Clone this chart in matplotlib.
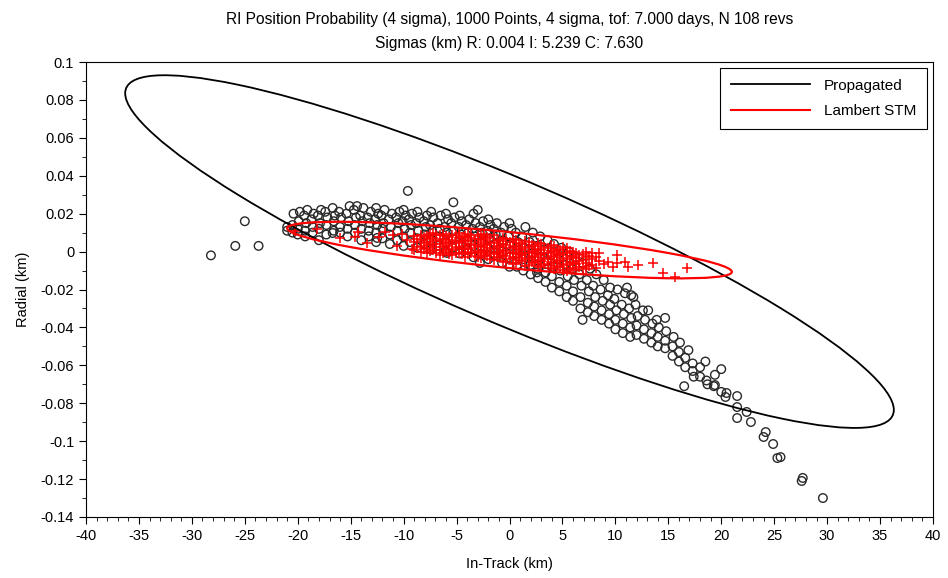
import numpy as np
import matplotlib
matplotlib.use("Agg")
import matplotlib.pyplot as plt
from matplotlib.patches import Circle
from matplotlib.transforms import Affine2D
from matplotlib.lines import Line2D
from matplotlib.ticker import FuncFormatter, MultipleLocator

plt.rcParams.update({"font.family": ["Liberation Sans", "DejaVu Sans"],
                     "axes.unicode_minus": False, "font.size": 10})

TITLE = ("RI Position Probability (4 sigma), 1000 Points, 4 sigma, tof: 7.000 days, N 108 revs\n"
         "Sigmas (km) R: 0.004 I: 5.239 C: 7.630")

# propagated samples (in-track km, radial km)
prop_pts = [
    (-28.2, -0.002), (-25.9, 0.003), (-25.0, 0.016), (-23.7, 0.003), (-9.6, 0.032),
    (-21.0, 0.011), (-21.0, 0.013), (-20.5, 0.010), (-20.5, 0.014), (-20.4, 0.020),
    (-20.0, 0.009), (-20.0, 0.012), (-19.9, 0.016), (-19.8, 0.021),
    (-19.3, 0.008), (-19.3, 0.011), (-19.2, 0.015), (-19.4, 0.019), (-19.1, 0.022),
    (-18.6, 0.010), (-18.6, 0.013), (-18.7, 0.017), (-18.5, 0.020),
    (-18.0, 0.006), (-18.0, 0.012), (-17.9, 0.015), (-18.1, 0.019), (-17.8, 0.022),
    (-17.3, 0.009), (-17.3, 0.014), (-17.2, 0.018), (-17.4, 0.021),
    (-16.7, 0.0098), (-16.6, 0.011), (-16.6, 0.016), (-16.5, 0.019), (-16.7, 0.023),
    (-16.0, 0.010), (-16.0, 0.013), (-15.9, 0.018), (-16.1, 0.021),
    (-15.3, 0.008), (-15.3, 0.012), (-15.2, 0.016), (-15.4, 0.020), (-15.1, 0.024),
    (-14.6, 0.010), (-14.6, 0.014), (-14.5, 0.018), (-14.7, 0.022), (-14.4, 0.024),
    (-14.0, 0.006), (-14.0, 0.012), (-13.9, 0.016), (-14.1, 0.019), (-13.8, 0.023),
    (-13.3, 0.008), (-13.3, 0.011), (-13.2, 0.015), (-13.4, 0.018), (-13.1, 0.021),
    (-12.6, 0.005), (-12.5, 0.0072), (-12.6, 0.010), (-12.5, 0.014), (-12.7, 0.017),
    (-12.4, 0.020), (-12.6, 0.023),
    (-12.0, 0.007), (-12.0, 0.012), (-11.9, 0.015), (-12.1, 0.019), (-11.8, 0.022),
    (-11.3, 0.004), (-11.3, 0.009), (-11.2, 0.013), (-11.4, 0.017), (-11.1, 0.020),
    (-10.6, 0.006), (-10.6, 0.011), (-10.5, 0.015), (-10.7, 0.018), (-10.4, 0.021),
    (-10.0, 0.003), (-10.0, 0.008), (-9.9, 0.012), (-10.1, 0.016), (-9.8, 0.019),
    (-10.0, 0.022),
    (-9.4, 0.005), (-9.4, 0.010), (-9.3, 0.014), (-9.5, 0.017), (-9.2, 0.020),
    (-8.7, 0.002), (-8.7, 0.007), (-8.6, 0.011), (-8.8, 0.015), (-8.5, 0.018),
    (-8.7, 0.021),
    (-8.0, 0.004), (-8.0, 0.009), (-7.9, 0.013), (-8.1, 0.016), (-7.8, 0.019),
    (-7.4, 0.001), (-7.4, 0.006), (-7.3, 0.011), (-7.5, 0.014), (-7.2, 0.018),
    (-7.4, 0.021),
    (-6.7, 0.003), (-6.7, 0.008), (-6.6, 0.012), (-6.8, 0.015), (-6.5, 0.019),
    (-6.0, 0.000), (-5.9, -0.0007), (-6.0, 0.005), (-5.9, 0.010), (-6.1, 0.013),
    (-5.8, 0.017), (-6.0, 0.020),
    (-5.4, 0.002), (-5.4, 0.007), (-5.3, 0.011), (-5.5, 0.015), (-5.2, 0.018),
    (-5.3, 0.026),
    (-4.7, -0.001), (-4.7, 0.004), (-4.6, 0.009), (-4.8, 0.013), (-4.5, 0.016),
    (-4.7, 0.019),
    (-4.0, 0.001), (-4.0, 0.006), (-3.9, 0.010), (-4.1, 0.014), (-3.8, 0.017),
    (-3.4, -0.003), (-3.4, 0.003), (-3.3, 0.008), (-3.5, 0.012), (-3.2, 0.015),
    (-3.4, 0.020), (-3.0, 0.022),
    (-2.8, -0.006), (-2.7, -0.001), (-2.7, 0.005), (-2.6, 0.010), (-2.8, 0.013),
    (-2.5, 0.016),
    (-2.0, -0.004), (-2.0, 0.002), (-1.9, 0.007), (-2.1, 0.011), (-1.8, 0.014),
    (-2.0, 0.017),
    (-1.4, -0.002), (-1.4, 0.004), (-1.3, 0.009), (-1.5, 0.012), (-1.2, 0.015),
    (-0.7, -0.006), (-0.7, 0.000), (-0.6, 0.006), (-0.8, 0.010), (-0.5, 0.013),
    (0.0, -0.008), (0.0, -0.003), (0.1, 0.003), (-0.1, 0.008), (0.2, 0.012),
    (0.0, 0.015),
    (0.7, -0.008), (0.7, -0.001), (0.8, 0.005), (0.6, 0.010),
    (1.3, -0.010), (1.3, -0.004), (1.4, 0.002), (1.2, 0.008), (1.5, 0.013),
    (2.0, -0.012), (2.0, -0.007), (2.1, -0.001), (1.9, 0.005), (2.2, 0.010),
    (2.6, -0.011), (2.7, -0.014), (2.7, -0.009), (2.8, -0.003), (2.6, 0.003),
    (2.9, 0.008),
    (3.4, -0.016), (3.4, -0.011), (3.5, -0.005), (3.3, 0.001), (3.6, 0.006),
    (4.0, -0.019), (4.0, -0.013), (4.1, -0.008), (3.9, -0.002), (4.2, 0.004),
    (4.7, -0.021), (4.7, -0.016), (4.8, -0.010), (4.6, -0.004), (4.9, 0.002),
    (5.4, -0.024), (5.4, -0.018), (5.5, -0.013), (5.3, -0.007), (5.6, 0.000),
    (6.0, -0.026), (6.0, -0.021), (6.1, -0.015), (5.9, -0.009), (6.2, -0.003),
    (6.7, -0.030), (6.9, -0.036), (6.7, -0.024), (6.8, -0.018), (6.6, -0.012),
    (6.9, -0.006),
    (7.4, -0.032), (7.4, -0.027), (7.5, -0.021), (7.3, -0.015), (7.6, -0.009),
    (8.0, -0.034), (8.0, -0.029), (8.1, -0.024), (7.9, -0.018), (8.2, -0.012),
    (8.7, -0.036), (8.7, -0.031), (8.8, -0.026), (8.6, -0.020), (8.9, -0.015),
    (9.4, -0.038), (9.4, -0.033), (9.5, -0.028), (9.3, -0.023), (9.5, -0.019),
    (10.0, -0.041), (10.0, -0.036), (10.1, -0.031), (9.9, -0.025), (10.2, -0.020),
    (10.7, -0.043), (10.7, -0.038), (10.8, -0.033), (10.6, -0.028), (10.9, -0.022),
    (11.4, -0.045), (11.4, -0.040), (11.5, -0.035), (11.3, -0.030), (11.1, -0.019),
    (11.7, -0.024), (11.5, -0.023),
    (12.0, -0.044), (12.0, -0.039), (12.1, -0.034), (11.9, -0.028),
    (12.7, -0.046), (12.7, -0.041), (12.8, -0.036), (12.6, -0.031),
    (13.4, -0.048), (13.4, -0.043), (13.5, -0.038), (13.1, -0.031),
    (14.0, -0.050), (14.0, -0.045), (14.1, -0.040), (13.9, -0.036),
    (14.7, -0.051), (14.7, -0.047), (14.8, -0.042), (14.7, -0.035),
    (15.4, -0.055), (15.4, -0.050), (15.5, -0.045),
    (16.0, -0.058), (16.0, -0.053), (16.1, -0.048),
    (16.5, -0.071), (16.6, -0.061), (16.6, -0.056), (16.9, -0.052),
    (17.3, -0.063), (17.3, -0.059), (17.4, -0.066),
    (18.0, -0.066), (18.0, -0.061), (18.5, -0.058),
    (18.7, -0.070), (18.6, -0.068), (19.3, -0.071), (19.4, -0.065),
    (20.0, -0.062), (20.0, -0.074),
    (19.4, -0.0704), (20.4, -0.0767), (20.5, -0.0746), (21.5, -0.0762),
    (21.5, -0.0820), (21.5, -0.0878), (22.4, -0.0846), (22.8, -0.0899),
    (24.2, -0.0952), (24.0, -0.0978), (24.9, -0.1015), (25.3, -0.1089),
    (25.6, -0.1084), (27.7, -0.1194), (27.6, -0.1210), (29.6, -0.1300),
]

# Lambert STM samples (in-track km, radial km)
stm_pts = [
    (-20.3, 0.011), (-18.2, 0.012), (-16.0, 0.0072), (-14.6, 0.0077), (-13.5, 0.0045),
    (-14.3, 0.0103), (-11.8, 0.0103), (-10.6, 0.003), (-9.2, 0.0014), (-9.7, 0.0061),
    (-12.3, 0.0075), (-11.0, 0.0085), (-10.2, 0.0095),
    (-9.0, 0.001), (-9.0, 0.005), (-9.0, 0.008),
    (-8.7, 0.0025), (-8.7, 0.0065),
    (-8.4, 0.000), (-8.4, 0.003), (-8.4, 0.006), (-8.4, 0.009),
    (-8.1, 0.0015), (-8.1, 0.0045), (-8.1, 0.0075),
    (-7.8, -0.001), (-7.8, 0.002), (-7.8, 0.005), (-7.8, 0.008),
    (-7.5, 0.0005), (-7.5, 0.0035), (-7.5, 0.0065), (-7.5, 0.0095),
    (-7.2, 0.001), (-7.2, 0.004), (-7.2, 0.007), (-7.2, 0.010),
    (-6.9, -0.0005), (-6.9, 0.0025), (-6.9, 0.0055), (-6.9, 0.0085),
    (-6.6, -0.002), (-6.6, 0.001), (-6.6, 0.004), (-6.6, 0.006), (-6.6, 0.009),
    (-6.3, -0.0005), (-6.3, 0.0025), (-6.3, 0.0065), (-6.3, 0.0095),
    (-6.0, 0.000), (-6.0, 0.003), (-6.0, 0.005), (-6.0, 0.008),
    (-5.7, -0.0015), (-5.7, 0.0015), (-5.7, 0.0045), (-5.7, 0.0075),
    (-5.4, -0.002), (-5.4, 0.001), (-5.4, 0.004), (-5.4, 0.006), (-5.4, 0.009),
    (-5.1, -0.0005), (-5.1, 0.0025), (-5.1, 0.0055), (-5.1, 0.0085),
    (-4.8, -0.001), (-4.8, 0.002), (-4.8, 0.005), (-4.8, 0.007), (-4.8, 0.010),
    (-4.5, -0.0015), (-4.5, 0.0015), (-4.5, 0.0045), (-4.5, 0.0075),
    (-4.2, -0.003), (-4.2, 0.000), (-4.2, 0.003), (-4.2, 0.006), (-4.2, 0.008),
    (-3.9, -0.0015), (-3.9, 0.0015), (-3.9, 0.0055), (-3.9, 0.0095),
    (-3.6, -0.001), (-3.6, 0.002), (-3.6, 0.004), (-3.6, 0.007), (-3.6, 0.009),
    (-3.3, -0.0025), (-3.3, 0.0005), (-3.3, 0.0035), (-3.3, 0.0065),
    (-3.0, -0.003), (-3.0, 0.000), (-3.0, 0.003), (-3.0, 0.005), (-3.0, 0.008),
    (-2.7, -0.0035), (-2.7, -0.0005), (-2.7, 0.0025), (-2.7, 0.0065), (-2.7, 0.0095),
    (-2.4, -0.002), (-2.4, 0.001), (-2.4, 0.004), (-2.4, 0.006), (-2.4, 0.009),
    (-2.1, -0.0025), (-2.1, 0.0005), (-2.1, 0.0035), (-2.1, 0.0075),
    (-1.8, -0.004), (-1.8, -0.001), (-1.8, 0.002), (-1.8, 0.005), (-1.8, 0.007),
    (-1.5, -0.0045), (-1.5, -0.0015), (-1.5, 0.0015), (-1.5, 0.0045), (-1.5, 0.0085),
    (-1.2, -0.003), (-1.2, 0.000), (-1.2, 0.003), (-1.2, 0.006),
    (-0.9, -0.0035), (-0.9, -0.0005), (-0.9, 0.0025), (-0.9, 0.0055),
    (-0.6, -0.005), (-0.6, -0.002), (-0.6, 0.001), (-0.6, 0.004), (-0.6, 0.007),
    (-0.3, -0.0055), (-0.3, -0.0025), (-0.3, 0.0005), (-0.3, 0.0035), (-0.3, 0.0065),
    (0.0, -0.004), (0.0, -0.001), (0.0, 0.002), (0.0, 0.005),
    (0.3, -0.0065), (0.3, -0.0035), (0.3, -0.0005), (0.3, 0.0025), (0.3, 0.0065),
    (0.6, -0.006), (0.6, -0.003), (0.6, 0.000), (0.6, 0.003), (0.6, 0.006),
    (0.9, -0.0045), (0.9, -0.0015), (0.9, 0.0015), (0.9, 0.0045),
    (1.2, -0.005), (1.2, -0.002), (1.2, 0.001), (1.2, 0.004),
    (1.5, -0.0075), (1.5, -0.0035), (1.5, -0.0005), (1.5, 0.0025), (1.5, 0.0055),
    (1.8, -0.007), (1.8, -0.004), (1.8, -0.001), (1.8, 0.002), (1.8, 0.005),
    (2.1, -0.0055), (2.1, -0.0025), (2.1, 0.0005), (2.1, 0.0035),
    (2.4, -0.006), (2.4, -0.003), (2.4, 0.000), (2.4, 0.003),
    (2.7, -0.0075), (2.7, -0.0045), (2.7, -0.0015), (2.7, 0.0015), (2.7, 0.0045),
    (3.0, -0.008), (3.0, -0.005), (3.0, -0.002), (3.0, 0.001), (3.0, 0.004),
    (3.3, -0.0065), (3.3, -0.0035), (3.3, -0.0005), (3.3, 0.0025),
    (3.6, -0.007), (3.6, -0.004), (3.6, -0.001), (3.6, 0.002),
    (3.9, -0.0085), (3.9, -0.0055), (3.9, -0.0025), (3.9, 0.0005), (3.9, 0.0035),
    (4.2, -0.009), (4.2, -0.006), (4.2, -0.003), (4.2, 0.000), (4.2, 0.003),
    (4.5, -0.0075), (4.5, -0.0045), (4.5, -0.0015), (4.5, 0.0015),
    (4.8, -0.008), (4.8, -0.005), (4.8, -0.002), (4.8, 0.001),
    (5.1, -0.0095), (5.1, -0.0065), (5.1, -0.0035), (5.1, -0.0005), (5.1, 0.0025),
    (5.4, -0.010), (5.4, -0.007), (5.4, -0.004), (5.4, -0.001), (5.4, 0.002),
    (5.7, -0.0085), (5.7, -0.0055), (5.7, -0.0025), (5.7, 0.0005),
    (6.0, -0.009), (6.0, -0.006), (6.0, -0.003), (6.0, 0.000),
    (6.3, -0.0095), (6.3, -0.0065), (6.3, -0.0035), (6.3, -0.0005),
    (6.6, -0.008), (6.6, -0.005), (6.6, -0.002),
    (6.9, -0.0085), (6.9, -0.0045), (6.9, -0.0015),
    (7.2, -0.009), (7.2, -0.006), (7.2, -0.003), (7.2, 0.000),
    (7.5, -0.0075), (7.5, -0.0025),
    (7.8, -0.007), (7.8, -0.004), (7.8, -0.001),
    (8.2, -0.0085), (8.2, -0.003),
    (8.5, -0.0007), (8.5, -0.005), (8.9, -0.0065), (9.3, -0.0055), (9.8, -0.008),
    (10.2, -0.0018), (10.2, -0.006), (10.9, -0.0055), (11.2, -0.0081), (12.1, -0.0071),
    (13.6, -0.006), (14.5, -0.0113), (15.6, -0.0134), (16.8, -0.0087),
]

# 4-sigma ellipses: centre, in-track semi-extent, radial coupling terms
prop_center, prop_a, prop_b = (0.0, 0.0), 36.3, (-0.0835, 0.041)
stm_center, stm_a, stm_b = (0.0, 0.0008), 21.0, (-0.0115, 0.0095)

px, py = np.array(prop_pts).T
sx, sy = np.array(stm_pts).T

fig = plt.figure(figsize=(9.48, 5.78), dpi=100)
ax = fig.add_axes([86 / 948, 1 - 517 / 578, 847 / 948, 455 / 578])

ax.scatter(px, py, s=38, facecolors="none", edgecolors="#2a2a2a", linewidths=1.0, zorder=2)
ax.scatter(sx, sy, s=60, marker="+", color="red", linewidths=1.1, zorder=3)


def ellipse(center, a, b, color, lw):
    m = np.array([[a, 0, center[0]], [b[0], b[1], center[1]], [0, 0, 1]])
    c = Circle((0, 0), 1, fill=False, edgecolor=color, lw=lw,
               transform=Affine2D(m) + ax.transData, zorder=4)
    ax.add_patch(c)


ellipse(prop_center, prop_a, prop_b, "black", 1.3)
ellipse(stm_center, stm_a, stm_b, "red", 1.6)

ax.set_xlim(-40, 40)
ax.set_ylim(-0.14, 0.1)
ax.xaxis.set_major_locator(MultipleLocator(5))
ax.xaxis.set_minor_locator(MultipleLocator(1))
ax.yaxis.set_major_locator(MultipleLocator(0.02))
ax.yaxis.set_minor_locator(MultipleLocator(0.01))
fmt = FuncFormatter(lambda v, p: "%g" % round(v, 4))
ax.xaxis.set_major_formatter(fmt)
ax.yaxis.set_major_formatter(fmt)
ax.tick_params(which="major", direction="out", length=5, labelsize=10.5)
ax.tick_params(which="minor", direction="out", length=3)
ax.set_xlabel("In-Track (km)", fontsize=10.5, labelpad=10)
ax.set_ylabel("Radial (km)", fontsize=10.5, labelpad=8)
ax.set_title(TITLE, fontsize=11.2, linespacing=1.75, pad=10)

handles = [Line2D([], [], color="black", lw=1.3), Line2D([], [], color="red", lw=1.5)]
leg = ax.legend(handles, ["Propagated", "Lambert STM"], loc="upper right", fontsize=11,
                handlelength=5.2, fancybox=False, framealpha=1, edgecolor="black",
                borderaxespad=0.4, handletextpad=0.9, labelspacing=0.75, borderpad=0.7)
leg.get_frame().set_linewidth(0.8)

fig.savefig("out.png", dpi=100, facecolor="white")
